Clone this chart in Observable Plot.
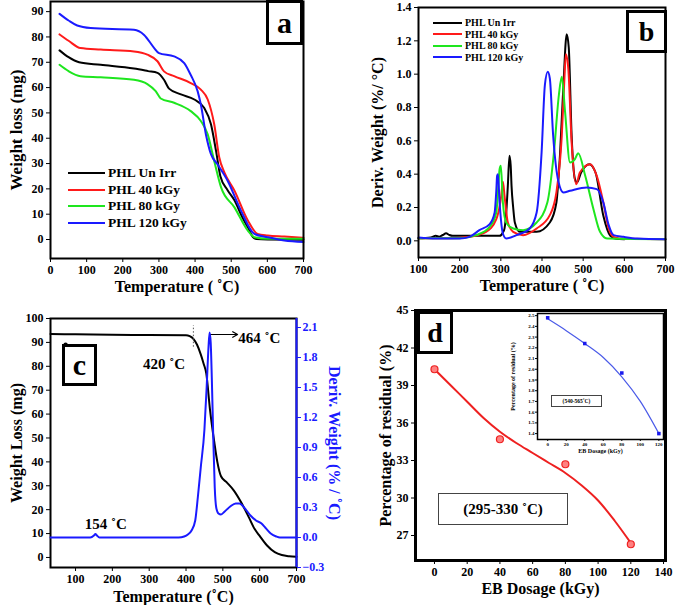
<!DOCTYPE html>
<html><head><meta charset="utf-8">
<script src="https://cdn.jsdelivr.net/npm/d3@7"></script>
<script src="https://cdn.jsdelivr.net/npm/@observablehq/plot@0.6"></script>
<style>
body{margin:0;background:#fff;}
#wrap{position:relative;width:675px;height:605px;overflow:hidden;font-family:"Liberation Serif","Times New Roman",serif;font-weight:bold;background:#fff;}
.p{position:absolute;}
.p svg{display:block;overflow:visible;}
.lab{position:absolute;border:3px solid #000;background:#fff;box-sizing:border-box;display:flex;align-items:center;justify-content:center;font-weight:bold;line-height:1;}
.leg{position:absolute;display:flex;align-items:center;white-space:nowrap;}
.leg span.l{display:inline-block;}
.box{position:absolute;box-sizing:border-box;background:#fff;display:flex;align-items:center;justify-content:center;white-space:nowrap;}
</style></head>
<body><div id="wrap"></div>
<script>
// ---------- data ----------
const seriesNames = ["PHL Un Irr", "PHL 40 kGy", "PHL 80 kGy", "PHL 120 kGy"];
const seriesColors = ["#000000", "#ff1a1a", "#1ee61e", "#1a1aff"];

// panel a: TGA weight loss (mg) vs temperature
const tgaUnIrr = [[25,74.7],[50,72],[79,70],[139,69],[231,67.5],[270,66.5],[296,65.8],[314,63.1],[328,59.6],[361,57.3],[398,55.3],[425,52],[444,45.5],[458,35],[470,25],[490,19.5],[509,15.5],[530,9],[546,4.8],[560,1],[570,0.2],[601,0],[700,-0.1]];
const tga40 = [[25,81],[50,78.5],[83,75.6],[139,75],[231,74.3],[268,73],[296,70.4],[314,66.4],[342,64.5],[388,61.8],[416,59.2],[435,55.3],[453,45.5],[467,32.4],[481,26.5],[509,19.3],[546,7.5],[573,2.2],[601,1.6],[647,1.2],[700,0.7]];
const tga80 = [[25,69],[50,66.5],[83,64.5],[139,64.1],[231,63.1],[268,61.4],[291,58.6],[305,55.7],[342,54],[388,50.7],[416,46.8],[435,41.5],[453,31],[472,20.6],[509,12.7],[546,3.5],[564,0.9],[601,0.3],[700,0.3]];
const tga120 = [[25,89.1],[50,86.5],[74,84.5],[111,83.5],[231,82.8],[259,80.8],[287,75.6],[300,73.6],[342,72.3],[370,69.7],[388,65],[407,58.6],[416,53.3],[430,41.5],[444,33.7],[462,29.7],[490,23.2],[527,11.4],[564,2.2],[601,0.9],[647,-0.4],[700,-1]];

// panel b: DTG deriv. weight vs temperature
const dtgUnIrr = [[100,0.015],[130,0.02],[142,0.03],[150,0.025],[159,0.035],[167,0.045],[175,0.035],[183,0.03],[250,0.03],[297,0.03],[305,0.05],[309,0.075],[314,0.2],[317,0.33],[321,0.51],[324,0.45],[326,0.33],[330,0.2],[334,0.11],[346,0.054],[387,0.054],[419,0.11],[435,0.23],[444,0.53],[452,0.93],[460,1.24],[465,1.16],[472,0.63],[480,0.37],[485,0.35],[495,0.41],[515,0.46],[530,0.41],[549,0.15],[566,0.03],[580,0.012],[600,0.01]];
const dtg40 = [[100,0.015],[180,0.015],[224,0.024],[264,0.054],[289,0.13],[298,0.22],[301,0.27],[305,0.355],[309,0.27],[317,0.11],[330,0.054],[354,0.034],[387,0.074],[419,0.154],[435,0.29],[448,0.63],[454,0.95],[458,1.12],[464,1.03],[472,0.59],[483,0.34],[492,0.41],[517,0.46],[533,0.39],[549,0.23],[562,0.074],[574,0.024],[600,0.012],[700,0.01]];
const dtg80 = [[100,0.015],[200,0.015],[240,0.034],[273,0.084],[289,0.17],[294,0.33],[297,0.43],[300,0.45],[305,0.23],[313,0.11],[330,0.074],[354,0.064],[387,0.11],[413,0.23],[429,0.53],[441,0.875],[448,0.985],[456,0.775],[468,0.47],[480,0.49],[488,0.525],[505,0.39],[525,0.19],[541,0.054],[558,0.014],[700,0.01]];
const dtg120 = [[100,0.02],[142,0.014],[200,0.014],[224,0.024],[248,0.064],[273,0.10],[285,0.17],[289,0.3],[291,0.39],[293,0.40],[297,0.23],[305,0.044],[313,0.014],[338,0.034],[370,0.074],[387,0.17],[399,0.53],[407,0.935],[414,1.015],[419,0.975],[427,0.635],[440,0.354],[452,0.29],[468,0.30],[509,0.32],[533,0.31],[549,0.23],[562,0.094],[574,0.034],[598,0.024],[631,0.014],[700,0.01]];

// panel c: TGA (left axis) and DTG (right axis) of one sample
const cWeight = [[32,93.5],[100,93.4],[200,93.2],[300,93.1],[400,93.0],[410,92.6],[420,91.5],[430,89],[440,85],[448,81],[455,77],[465,62],[477,48],[485,40],[495,34],[510,31.5],[530,28],[550,23],[570,17],[586,12],[600,9],[620,5],[641,2.2],[660,1],[680,0.5],[700,0.3]];
const cDeriv = [[32,0.0],[140,0.0],[150,0.02],[154,0.035],[158,0.02],[165,0.0],[380,0.0],[395,0.01],[405,0.03],[415,0.07],[425,0.17],[432,0.4],[440,0.7],[450,1.08],[456,1.5],[461,1.9],[464,2.05],[467,1.95],[470,1.6],[474,1.0],[478,0.5],[482,0.3],[488,0.24],[495,0.23],[505,0.26],[520,0.31],[535,0.34],[545,0.34],[560,0.29],[575,0.22],[590,0.17],[605,0.14],[615,0.1],[630,0.04],[645,0.01],[655,0.0],[700,0.0]];
const cDerivTicks = [-0.3,0,0.3,0.6,0.9,1.2,1.5,1.8,2.1];

// panel d: residual vs EB dosage
const doses = [0, 40, 80, 120];
const residualMain = [40.3, 34.7, 32.7, 26.3];
const fitDoseMain = [0,10,20,30,40,50,60,70,80,90,100,110,120];
const fitMain = [40.3,39.0,37.7,36.4,35.3,34.4,33.6,32.8,32.0,31.0,29.8,28.2,26.4];
const residualInset = [2.48, 2.24, 1.965, 1.40];
const fitDoseInset = [0,20,40,60,80,100,120];
const fitInset = [2.47,2.36,2.24,2.11,1.93,1.70,1.40];
const insetTicks = [1.4,1.5,1.6,1.7,1.8,1.9,2.0,2.1,2.2,2.3,2.4,2.5];

// ---------- helpers ----------
const wrap = document.getElementById("wrap");
const FONT = "Liberation Serif, Times New Roman, serif";
function place(svg, left, top, w) {
  const d = document.createElement("div");
  d.className = "p"; d.style.left = left + "px"; d.style.top = top + "px"; d.style.width = w + "px";
  d.appendChild(svg); wrap.appendChild(d);
}
function html(cls, left, top, w, h, inner, extra) {
  const d = document.createElement("div");
  d.className = cls; d.style.left = left + "px"; d.style.top = top + "px";
  if (w != null) d.style.width = w + "px";
  if (h != null) d.style.height = h + "px";
  d.innerHTML = inner; if (extra) Object.assign(d.style, extra);
  wrap.appendChild(d); return d;
}
const baseStyle = (extra) => Object.assign({fontFamily: FONT, fontWeight: "bold", fontSize: "12px", background: "transparent", overflow: "visible", maxWidth: "none"}, extra || {});
const X = d => d[0], Y = d => d[1];
const xTitle = (s, dy, fs) => Plot.text([s], {text: d => d, frameAnchor: "bottom", textAnchor: "middle", lineAnchor: "middle", dy, fontSize: fs});
const yTitle = (s, dx, fs, extra) => Plot.text([s], Object.assign({text: d => d, frameAnchor: "left", textAnchor: "middle", lineAnchor: "middle", dx, rotate: -90, fontSize: fs}, extra || {}));

// ---------- panel a ----------
const tgaSets = [tgaUnIrr, tga40, tga80, tga120];
const A = Plot.plot({
  width: 337, height: 295, marginLeft: 50, marginRight: 34, marginTop: 1, marginBottom: 37,
  style: baseStyle(),
  x: {domain: [0, 700]}, y: {domain: [-7.5, 94]},
  marks: [
    ...tgaSets.map((s, i) => Plot.line(s, {x: X, y: Y, stroke: seriesColors[i], strokeWidth: 2, curve: "monotone-x"})),
    Plot.frame({stroke: "#000", strokeWidth: 2}),
    Plot.axisX({ticks: d3.range(0, 701, 100), tickSize: 4, tickPadding: 3, label: null}),
    Plot.axisY({ticks: d3.range(0, 91, 10), tickSize: 4, tickPadding: 3, label: null}),
    xTitle("Temperature ( ˚C)", 28, 16),
    yTitle("Weight loss (mg)", -34, 17)
  ]
});
place(A, 0, 0, 337);

// ---------- panel b ----------
const dtgSets = [dtgUnIrr, dtg40, dtg80, dtg120];
const B = Plot.plot({
  width: 338, height: 295, marginLeft: 81, marginRight: 10, marginTop: 7, marginBottom: 38,
  style: baseStyle(),
  x: {domain: [100, 700]}, y: {domain: [-0.1, 1.4]},
  marks: [
    ...dtgSets.map((s, i) => Plot.line(s, {x: X, y: Y, stroke: seriesColors[i], strokeWidth: 2, curve: "monotone-x"})),
    Plot.frame({stroke: "#000", strokeWidth: 2}),
    Plot.axisX({ticks: d3.range(100, 701, 100), tickSize: 4, tickPadding: 3, label: null}),
    Plot.axisY({ticks: [0,0.2,0.4,0.6,0.8,1.0,1.2,1.4], tickFormat: d3.format(".1f"), tickSize: 4, tickPadding: 3, label: null}),
    xTitle("Temperature ( ˚C)", 28, 16),
    yTitle("Deriv. Weight (%/ °C)", -41, 16)
  ]
});
place(B, 337, 0, 338);

// ---------- panel c ----------
const C1 = Plot.plot({
  width: 345, height: 305, marginLeft: 50, marginRight: 49, marginTop: 18, marginBottom: 38,
  style: baseStyle(),
  x: {domain: [32, 700]}, y: {domain: [-4.2, 100]},
  marks: [
    Plot.line(cWeight, {x: X, y: Y, stroke: "#000", strokeWidth: 2, curve: "monotone-x"}),
    Plot.ruleX([420], {y1: 88, y2: 97, stroke: "#555", strokeDasharray: "1.5,2", strokeWidth: 1}),
    Plot.arrow([[464, 93.3, 540, 93.3]], {x1: d => d[0], y1: d => d[1], x2: d => d[2], y2: d => d[3], stroke: "#000", strokeWidth: 1.2, headLength: 7}),
    Plot.dot([[73, 89]], {x: X, y: Y, r: 2.2, fill: "#000"}),
    Plot.text(["464 ˚C"], {text: d => d, x: () => 542, y: () => 91.6, textAnchor: "start", fontSize: 15}),
    Plot.text(["420 ˚C"], {text: d => d, x: () => 340, y: () => 81, fontSize: 15}),
    Plot.text(["154 ˚C"], {text: d => d, x: () => 182, y: () => 13.8, fontSize: 15}),
    Plot.frame({stroke: "#000", strokeWidth: 2}),
    Plot.axisX({ticks: d3.range(100, 701, 100), tickSize: 4, tickPadding: 3, label: null}),
    Plot.axisY({ticks: d3.range(0, 101, 10), tickSize: 4, tickPadding: 3, label: null}),
    xTitle("Temperature (˚C)", 29, 16),
    yTitle("Weight Loss (mg)", -34, 16)
  ]
});
place(C1, 0, 300, 345);
const C2 = Plot.plot({
  width: 345, height: 305, marginLeft: 50, marginRight: 49, marginTop: 18, marginBottom: 38,
  style: baseStyle({color: "#1a1aff"}),
  x: {domain: [32, 700], axis: null}, y: {domain: [-0.3, 2.19]},
  marks: [
    Plot.line(cDeriv, {x: X, y: Y, stroke: "#1a1aff", strokeWidth: 2, curve: "monotone-x"}),
    Plot.ruleX([700], {stroke: "#1a1aff", strokeWidth: 2}),
    Plot.axisY({anchor: "right", ticks: cDerivTicks, tickFormat: d3.format(".1f"), tickSize: 4, tickPadding: 2, label: null}),
    Plot.text(["Deriv. Weight (% / ˚C)"], {text: d => d, frameAnchor: "right", textAnchor: "middle", lineAnchor: "middle", dx: 38, rotate: 90, fontSize: 16, fill: "#1a1aff"})
  ]
});
place(C2, 0, 300, 345);

// ---------- panel d ----------
const D = Plot.plot({
  width: 338, height: 305, marginLeft: 78, marginRight: 10, marginTop: 10, marginBottom: 45,
  style: baseStyle(),
  x: {domain: [-11.6, 141.2]}, y: {domain: [25, 45]},
  marks: [
    Plot.line(fitDoseMain, {x: d => d, y: (d, i) => fitMain[i], stroke: "#ee2020", strokeWidth: 2, curve: "monotone-x"}),
    Plot.dot(doses, {x: d => d, y: (d, i) => residualMain[i], r: 3.5, fill: "#ff8080", stroke: "#ee2020", strokeWidth: 1.2}),
    Plot.frame({stroke: "#000", strokeWidth: 3}),
    Plot.axisX({ticks: d3.range(0, 141, 20), tickSize: 4, tickPadding: 3, label: null}),
    Plot.axisY({ticks: d3.range(27, 46, 3), tickSize: 4, tickPadding: 3, label: null}),
    xTitle("EB Dosage (kGy)", 28, 16),
    yTitle("Percentage of residual (%)", -30, 16)
  ]
});
place(D, 337, 300, 338);

const Ins = Plot.plot({
  width: 168, height: 150, marginLeft: 37, marginRight: 5, marginTop: 1, marginBottom: 23,
  style: baseStyle({fontSize: "5px"}),
  x: {domain: [-11, 125]}, y: {domain: [1.345, 2.52]},
  marks: [
    Plot.frame({fill: "#fff", stroke: "#000", strokeWidth: 1.5}),
    Plot.line(fitDoseInset, {x: d => d, y: (d, i) => fitInset[i], stroke: "#4a5ae8", strokeWidth: 1.2, curve: "monotone-x"}),
    Plot.dot(doses, {x: d => d, y: (d, i) => residualInset[i], r: 2, symbol: "square", fill: "#1a1aee"}),
    Plot.axisX({ticks: d3.range(0, 121, 20), tickSize: 2, tickPadding: 1, label: null, fontSize: 5}),
    Plot.axisY({ticks: insetTicks, tickFormat: d3.format(".1f"), tickSize: 2, tickPadding: 1, label: null, fontSize: 5}),
    xTitle("EB Dosage (kGy)", 12, 6),
    yTitle("Percentage of residual (%)", -24, 6)
  ]
});
place(Ins, 500, 312, 168);

// ---------- legends ----------
function legend(left, top, rowH, lineW, font, lw) {
  seriesNames.forEach((n, i) => {
    html("leg", left, top + i * rowH - rowH / 2, null, rowH,
      `<span class="l" style="width:${lineW}px;border-top:${lw}px solid ${seriesColors[i]};margin-right:3px"></span><span style="font-size:${font}px">${n}</span>`);
  });
}
legend(68, 173, 16.7, 37, 13.5, 2);
legend(433, 23, 11.4, 29, 10, 2);

// ---------- panel labels & boxes ----------
html("lab", 266, 0, 37, 45, "a", {fontSize: "30px"});
html("lab", 626, 10, 41, 43, "b", {fontSize: "28px"});
html("lab", 62, 344, 35, 42, "c", {fontSize: "30px"});
html("lab", 417, 311, 36, 43, "d", {fontSize: "28px"});
html("box", 438, 493, 130, 32, "(295-330 ˚C)", {border: "1.5px solid #444", fontSize: "15px"});
html("box", 551, 395, 51, 12, "(540-565˚C)", {border: "1px solid #444", fontSize: "5.5px"});
</script></body></html>
